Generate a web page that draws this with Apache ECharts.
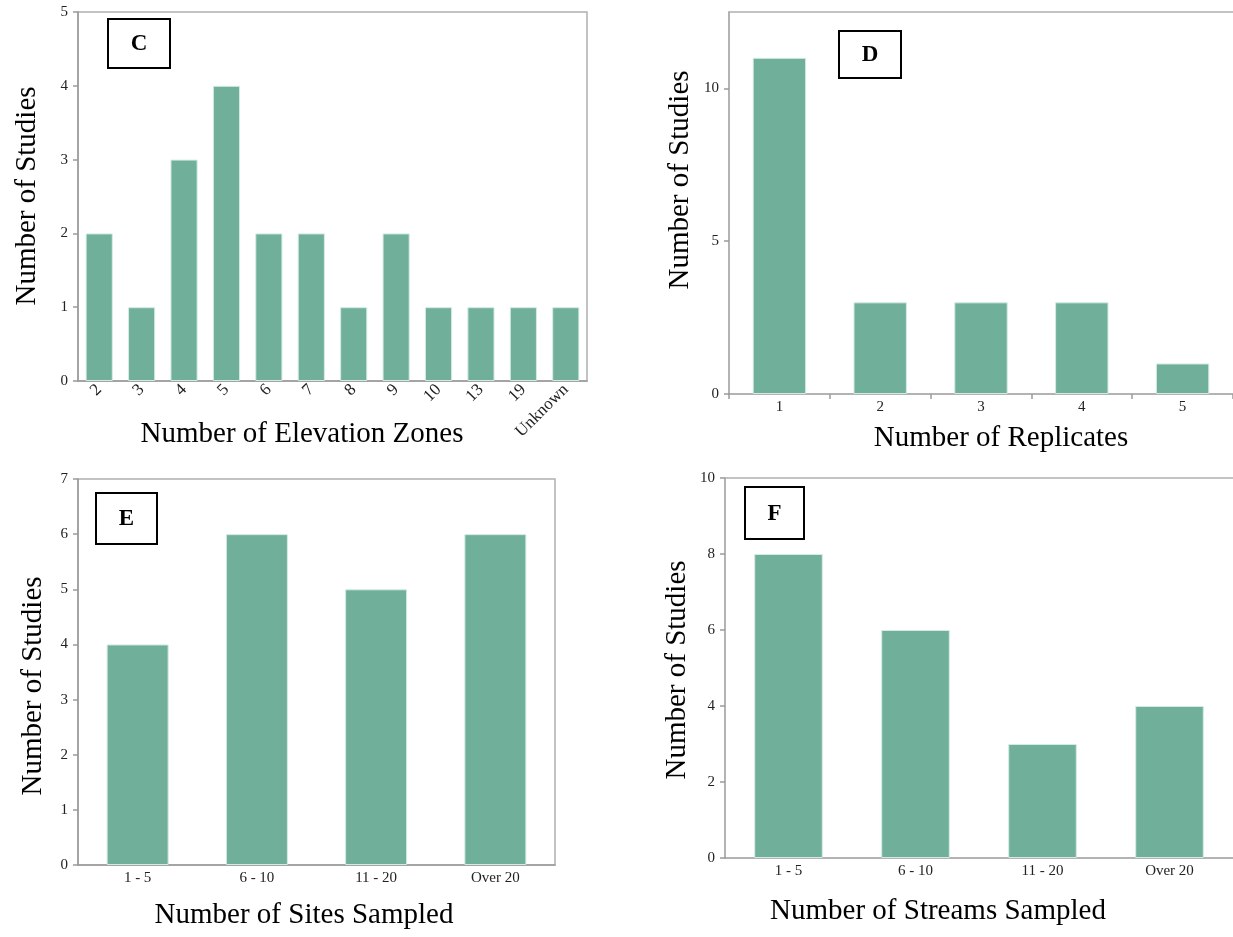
<!DOCTYPE html>
<html>
<head>
<meta charset="utf-8">
<script src="https://cdn.jsdelivr.net/npm/echarts@6/dist/echarts.min.js"></script>
<style>
html,body{margin:0;padding:0;background:#fff;}
#chart{width:1233px;height:937px;}
</style>
</head>
<body>
<div id="chart"></div>
<script>
// ---- Data ----
const elevCats = ['2','3','4','5','6','7','8','9','10','13','19','Unknown'];
const elevVals = [2,1,3,4,2,2,1,2,1,1,1,1];
const repCats = ['1','2','3','4','5'];
const repVals = [11,3,3,3,1];
const siteCats = ['1 - 5','6 - 10','11 - 20','Over 20'];
const siteVals = [4,6,5,6];
const streamCats = ['1 - 5','6 - 10','11 - 20','Over 20'];
const streamVals = [8,6,3,4];
const panelLetters = ['C','D','E','F'];
const xTitles = ['Number of Elevation Zones','Number of Replicates','Number of Sites Sampled','Number of Streams Sampled'];
const yTitle = 'Number of Studies';

const FONT = "'Liberation Serif', 'Times New Roman', serif";
const BAR = '#70b09b';
const AXIS = '#9a9a9a';
const BORDER = '#b0b0b0';
const LBL = '#222';

const chart = echarts.init(document.getElementById('chart'), null, {renderer:'canvas'});

const grids = [
  {left:78, top:12, width:509, height:369, show:true},
  {left:729, top:12, width:506, height:382, show:false},
  {left:78, top:479, width:477, height:386, show:true},
  {left:725, top:478, width:521, height:380, show:false}
];

function xAx(i, cats, opts){
  return Object.assign({
    type:'category', gridIndex:i, data:cats,
    axisLine:{lineStyle:{color:AXIS, width:1.5}},
    axisTick:{show:false},
    axisLabel:{color:LBL, fontFamily:FONT, fontSize:15, margin:6, interval:0}
  }, opts||{});
}
function topAx(i, cats){
  return {type:'category', gridIndex:i, data:cats, position:'top',
    axisLine:{show:true, lineStyle:{color:BORDER, width:1.5}},
    axisTick:{show:false}, axisLabel:{show:false}, splitLine:{show:false}};
}
function yAx(i, max, interval, extra){
  return Object.assign({
    type:'value', gridIndex:i, min:0, max:max, interval:interval,
    splitLine:{show:false},
    axisLine:{show:true, lineStyle:{color:AXIS, width:1.5}},
    axisTick:{show:true, length:5, lineStyle:{color:AXIS, width:1.5}},
    axisLabel:{color:LBL, fontFamily:FONT, fontSize:15, margin:10}
  }, extra||{});
}

const graphics = [];
const yTitlePos = [[27,196],[680,180],[33,686],[677,670]];
const xTitlePos = [[302,434],[1001,438],[304,915],[938,911]];
const boxes = [
  {x:108,y:19,w:62,h:49},
  {x:839,y:31,w:62,h:47},
  {x:96,y:493,w:61,h:51},
  {x:745,y:487,w:59,h:52}
];
for(let i=0;i<4;i++){
  graphics.push({type:'text', x:yTitlePos[i][0], y:yTitlePos[i][1], rotation:Math.PI/2,
    style:{text:yTitle, font:'29px '+FONT, fill:'#000', textAlign:'center', textVerticalAlign:'middle'}});
  graphics.push({type:'text', x:xTitlePos[i][0], y:xTitlePos[i][1],
    style:{text:xTitles[i], font:'29px '+FONT, fill:'#000', textAlign:'center', textVerticalAlign:'middle'}});
  const b = boxes[i];
  graphics.push({type:'rect', shape:{x:b.x, y:b.y, width:b.w, height:b.h},
    style:{fill:'#fff', stroke:'#000', lineWidth:2}, z:100});
  graphics.push({type:'text', x:b.x+b.w/2, y:b.y+b.h/2+1, z:101,
    style:{text:panelLetters[i], font:'bold 23px '+FONT, fill:'#000', textAlign:'center', textVerticalAlign:'middle'}});
}

const option = {
  backgroundColor:'#fff',
  animation:false,
  grid: grids.map(g => Object.assign({borderColor:BORDER, borderWidth:1.5, backgroundColor:'transparent', containLabel:false}, g)),
  xAxis:[
    xAx(0, elevCats, {axisLabel:{color:LBL, fontFamily:FONT, fontSize:17, margin:6, interval:0, rotate:45}}),
    xAx(1, repCats, {axisTick:{show:true, length:5, lineStyle:{color:AXIS, width:1.5}}}),
    xAx(2, siteCats),
    xAx(3, streamCats),
    topAx(1, repCats),
    topAx(3, streamCats)
  ],
  yAxis:[
    yAx(0, 5, 1),
    yAx(1, 12.5, 5, {axisLabel:{color:LBL, fontFamily:FONT, fontSize:15, margin:10, showMaxLabel:false}}),
    yAx(2, 7, 1),
    yAx(3, 10, 2)
  ],
  series:[
    {type:'bar', xAxisIndex:0, yAxisIndex:0, data:elevVals, barWidth:'64%'},
    {type:'bar', xAxisIndex:1, yAxisIndex:1, data:repVals, barWidth:'53%'},
    {type:'bar', xAxisIndex:2, yAxisIndex:2, data:siteVals, barWidth:'52%'},
    {type:'bar', xAxisIndex:3, yAxisIndex:3, data:streamVals, barWidth:'54%'}
  ].map(s => Object.assign(s, {itemStyle:{color:BAR, borderColor:'#d4ebe2', borderWidth:1}})),
  graphic: graphics
};
chart.setOption(option);
</script>
</body>
</html>
